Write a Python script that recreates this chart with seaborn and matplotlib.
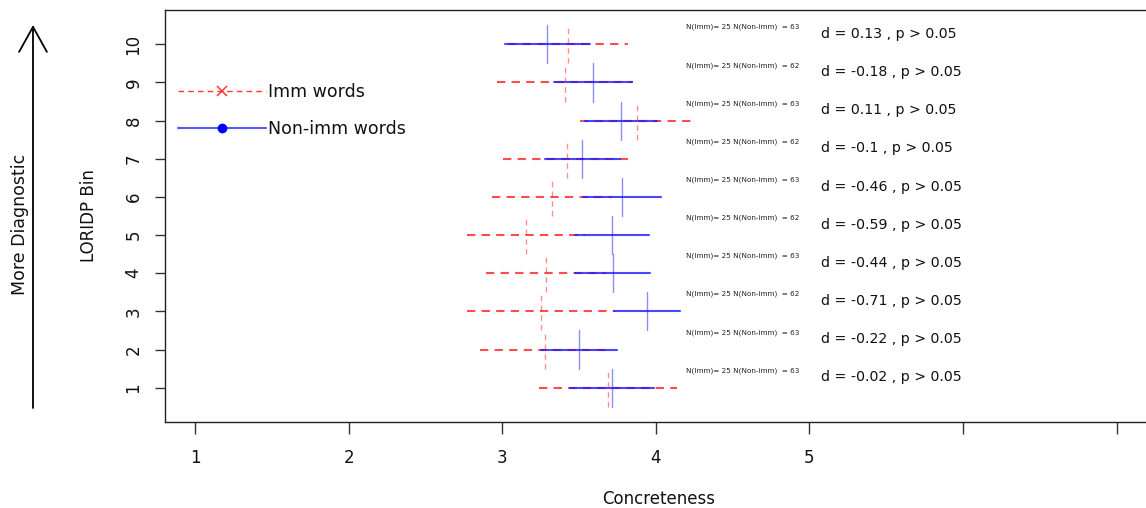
import numpy as np
import pandas as pd
import seaborn as sns
import matplotlib
matplotlib.use("Agg")
import matplotlib.pyplot as plt
from matplotlib.lines import Line2D
from matplotlib.patches import FancyArrowPatch, ArrowStyle

# ---- data -------------------------------------------------------------
bins = [1, 2, 3, 4, 5, 6, 7, 8, 9, 10]
imm_mean = [3.689, 3.279, 3.253, 3.285, 3.155, 3.324, 3.422, 3.878, 3.409, 3.428]
imm_half = [0.452, 0.423, 0.480, 0.390, 0.384, 0.390, 0.417, 0.371, 0.443, 0.390]
non_mean = [3.715, 3.500, 3.943, 3.721, 3.715, 3.780, 3.520, 3.773, 3.591, 3.292]
non_half = [0.273, 0.250, 0.215, 0.244, 0.238, 0.254, 0.244, 0.234, 0.254, 0.277]
n_imm = [25, 25, 25, 25, 25, 25, 25, 25, 25, 25]
n_non = [63, 63, 62, 63, 62, 63, 62, 63, 62, 63]
d_vals = ["-0.02", "-0.22", "-0.71", "-0.44", "-0.59", "-0.46", "-0.1", "0.11", "-0.18", "0.13"]
p_text = "p > 0.05"
x_ticks = [1, 2, 3, 4, 5, 6, 7]
x_ticklabels = ["1", "2", "3", "4", "5", "", ""]
groups = ["Imm words", "Non-imm words"]

# ---- long tables of segment end points ---------------------------------
h_rows, v_rows = [], []
for g, means, halves in [(groups[0], imm_mean, imm_half), (groups[1], non_mean, non_half)]:
    for b, m, hw in zip(bins, means, halves):
        seg = f"{g}-{b}"
        h_rows += [dict(group=g, seg=seg, x=m - hw, y=b), dict(group=g, seg=seg, x=m + hw, y=b)]
        v_rows += [dict(group=g, seg=seg, x=m, y=b - 0.5), dict(group=g, seg=seg, x=m, y=b + 0.5)]
hdf = pd.DataFrame(h_rows)
vdf = pd.DataFrame(v_rows)

palette = {groups[0]: "#ff2020", groups[1]: "#1a1aff"}
dashes = {groups[0]: (4, 3), groups[1]: ""}

sns.set_style("white")
plt.rcParams["font.family"] = ["DejaVu Sans"]

W, H = 1146, 508
fig = plt.figure(figsize=(W / 100, H / 100), dpi=100)
ax = fig.add_axes([165 / W, (H - 422) / H, (W + 12 - 165) / W, (422 - 10) / H])

sns.lineplot(data=hdf, x="x", y="y", hue="group", style="group", units="seg",
             estimator=None, sort=False, hue_order=groups, style_order=groups,
             palette=palette, dashes=dashes, linewidth=1.5, alpha=0.8,
             legend=False, ax=ax)
sns.lineplot(data=vdf, x="x", y="y", hue="group", style="group", units="seg",
             estimator=None, sort=False, hue_order=groups, style_order=groups,
             palette=palette, dashes=dashes, linewidth=1.0, alpha=0.5,
             legend=False, ax=ax)

# annotations per bin
for b, ni, nn, d in zip(bins, n_imm, n_non, d_vals):
    ax.text(4.196, b + 0.45, f"N(Imm)= {ni} N(Non-imm)  = {nn}", fontsize=5.2,
            color="#222222", ha="left", va="center")
    ax.text(5.075, b + 0.27, f"d = {d} , {p_text}", fontsize=10.2,
            color="#111111", ha="left", va="center")

# axes styling
x0 = 1 - 30 / 153.6
x1 = 1 + (W + 12 - 195) / 153.6
ax.set_xlim(x0, x1)
ax.set_ylim(0.1, 10.9)
ax.set_xticks(x_ticks)
ax.set_xticklabels(x_ticklabels, fontsize=12)
ax.set_yticks(bins)
ax.set_yticklabels([str(b) for b in bins], fontsize=12, rotation=90, va="center")
ax.tick_params(axis="x", length=8.5, width=1, color="#333333", pad=11, direction="out",
               bottom=True, labelcolor="#111111")
ax.tick_params(axis="y", length=7.2, width=1, color="#333333", pad=9, direction="out",
               left=True, labelcolor="#111111")
for s in ["left", "top", "bottom"]:
    ax.spines[s].set_color("#222222")
    ax.spines[s].set_linewidth(1.0)
ax.spines["right"].set_visible(False)
ax.set_xlabel("")
ax.set_ylabel("")

fig.text(659 / W, (H - 499) / H, "Concreteness", fontsize=12, ha="center", va="center",
         color="#111111")
fig.text(89 / W, (H - 216) / H, "LORIDP Bin", fontsize=12, ha="center", va="center",
         rotation=90, color="#111111")
fig.text(20 / W, (H - 224) / H, "More Diagnostic", fontsize=12.5, ha="center", va="center",
         rotation=90, color="#111111")

arrow = FancyArrowPatch(posA=(33 / W, (H - 408) / H), posB=(33 / W, (H - 25) / H),
                        transform=fig.transFigure,
                        arrowstyle=ArrowStyle("->", head_length=1.8, head_width=1.0),
                        mutation_scale=10, color="black", linewidth=1.3,
                        shrinkA=0, shrinkB=0)
fig.add_artist(arrow)

# legend
handles = [
    Line2D([], [], color="#ff2020", linestyle=(0, (4, 3)), linewidth=1.0,
           marker="x", markersize=7, markeredgewidth=1.1, alpha=0.9),
    Line2D([], [], color="#5555ff", linestyle="-", linewidth=1.5,
           marker="o", markersize=6, markerfacecolor="#0000ff", markeredgecolor="#0000ff"),
]
leg = ax.legend(handles, groups, loc="center left", bbox_to_anchor=(178 / W, (H - 110.5) / H),
                bbox_transform=fig.transFigure, frameon=False, fontsize=12.5,
                handlelength=5.05, handletextpad=0.15, labelspacing=1.05,
                borderpad=0, borderaxespad=0, numpoints=1)
for t in leg.get_texts():
    t.set_color("#111111")

fig.savefig("out.png", dpi=100)
